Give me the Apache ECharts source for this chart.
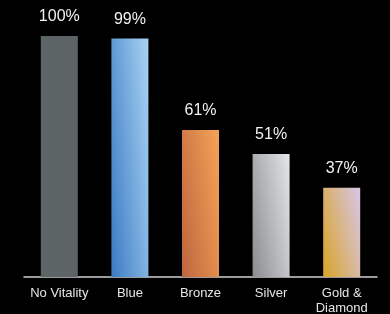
<!DOCTYPE html>
<html>
<head>
    <meta http-equiv=Content-Type content="text/html; charset=utf-8">
    <title>Vitality</title>
    <script type="text/javascript" src="https://cdn.jsdelivr.net/npm/echarts@6/dist/echarts.min.js"></script>
    <style>
        html, body { margin: 0; padding: 0; background: #000; }
        #chartmain { width: 390px; height: 314px; }
    </style>
</head>
<body>
<div id="chartmain"></div>
<script type="text/javascript">
    // 数据
    var categories = ['No Vitality', 'Blue', 'Bronze', 'Silver', 'Gold &\nDiamond'];
    var values = [100, 99, 61, 51, 37];
    // 每根柱子的渐变色 (左下 -> 右上)
    var barColors = [
        ['#5d6466', '#5d6466'],
        ['#3b7ac4', '#a9d3f3'],
        ['#bd663f', '#f5a357'],
        ['#8b8c90', '#e3e5e7'],
        ['#d9a426', '#d8c6ea']
    ];

    // 渐变: 横向占0.65, 纵向占0.35 (左下最暗, 右上最亮)
    var BAR_W = 37, PX_PER_UNIT = 2.41;
    function grad(c, v) {
        var a = 0.65, b = 0.35;
        var w = BAR_W, h = PX_PER_UNIT * v;
        var k = 1 / (a * a / (w * w) + b * b / (h * h));
        var ex = k * a / (w * w), ey = k * b / (h * h);
        return new echarts.graphic.LinearGradient(0, 1, ex, 1 - ey, [
            {offset: 0, color: c[0]},
            {offset: 1, color: c[1]}
        ]);
    }

    var data = [];
    for (var i = 0; i < values.length; i++) {
        data.push({value: values[i], itemStyle: {color: grad(barColors[i], values[i])}});
    }

    var myChart = echarts.init(document.getElementById('chartmain'));
    var option = {
        backgroundColor: '#000',
        animation: false,
        grid: {left: 24, right: 13, top: 36, bottom: 37, containLabel: false, outerBoundsMode: 'none'},
        xAxis: {
            type: 'category',
            data: categories,
            axisLine: {lineStyle: {color: '#d0d0d0', width: 1.5}},
            axisTick: {show: false},
            axisLabel: {
                color: '#e6e6e6',
                fontSize: 13,
                fontFamily: 'Liberation Sans, Arial, sans-serif',
                lineHeight: 15,
                margin: 9,
                interval: 0
            }
        },
        yAxis: {
            type: 'value',
            min: 0,
            max: 100,
            show: false
        },
        series: [{
            type: 'bar',
            data: data,
            barWidth: BAR_W,
            label: {
                show: true,
                position: 'top',
                distance: 11,
                color: '#f2f2f2',
                fontSize: 16,
                fontFamily: 'Liberation Sans, Arial, sans-serif',
                formatter: '{c}%'
            }
        }]
    };
    myChart.setOption(option);
</script>
</body>
</html>
